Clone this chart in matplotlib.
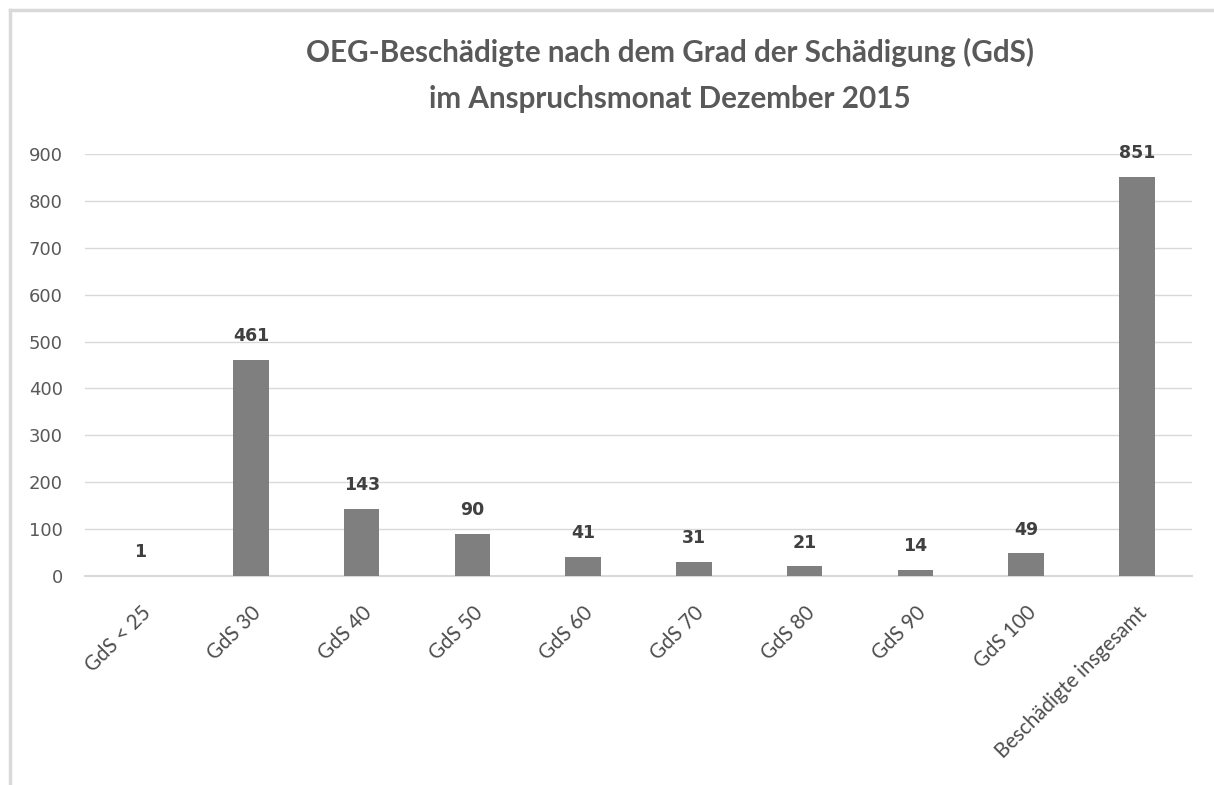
import matplotlib.pyplot as plt
import numpy as np
from matplotlib.lines import Line2D

categories = ['GdS < 25', 'GdS 30', 'GdS 40', 'GdS 50', 'GdS 60',
              'GdS 70', 'GdS 80', 'GdS 90', 'GdS 100', 'Beschädigte insgesamt']
values = [1, 461, 143, 90, 41, 31, 21, 14, 49, 851]
yticks = [0, 100, 200, 300, 400, 500, 600, 700, 800, 900]

plt.rcParams['font.family'] = ['Lato', 'DejaVu Sans']

fig = plt.figure(figsize=(12.14, 7.85), dpi=100)
ax = fig.add_axes([0.070, 0.266, 0.912, 0.538])

x = np.arange(len(categories))
ax.bar(x, values, width=0.32, color='#7f7f7f', zorder=3)

for xi, v in zip(x, values):
    ax.annotate(str(v), (xi, v), xytext=(0, 17), textcoords='offset points',
                ha='center', va='center', fontsize=12.5, fontweight='bold',
                family='DejaVu Sans', color='#404040')

ax.set_xlim(-0.5, len(categories) - 0.5)
ax.set_ylim(0, 900)
ax.set_yticks(yticks)
ax.set_yticklabels([str(t) for t in yticks], fontsize=13, color='#595959',
                   family='DejaVu Sans')
ax.set_xticks(x)
ax.set_xticklabels(categories, rotation=45, ha='right', rotation_mode='anchor',
                   fontsize=14.8, color='#4d4d4d')
ax.tick_params(axis='both', length=0)
ax.tick_params(axis='y', pad=16)
ax.tick_params(axis='x', pad=19)

ax.grid(axis='y', color='#d9d9d9', linewidth=1, zorder=0)
for s in ['top', 'right', 'left']:
    ax.spines[s].set_visible(False)
ax.spines['bottom'].set_color('#d9d9d9')
ax.spines['bottom'].set_linewidth(1.5)

fig.text(0.552, 0.904, 'OEG-Beschädigte nach dem Grad der Schädigung (GdS)\nim Anspruchsmonat Dezember 2015',
         ha='center', va='center', fontsize=21.3, fontweight='bold', color='#595959',
         linespacing=1.75)

# chart frame (top and left edges only visible)
fig.add_artist(Line2D([0.008, 1.0], [1 - 10 / 785, 1 - 10 / 785], color='#d9d9d9', linewidth=2.5))
fig.add_artist(Line2D([10 / 1214, 10 / 1214], [0, 1 - 10 / 785], color='#d9d9d9', linewidth=2.5))

fig.savefig('out.png', dpi=100)
